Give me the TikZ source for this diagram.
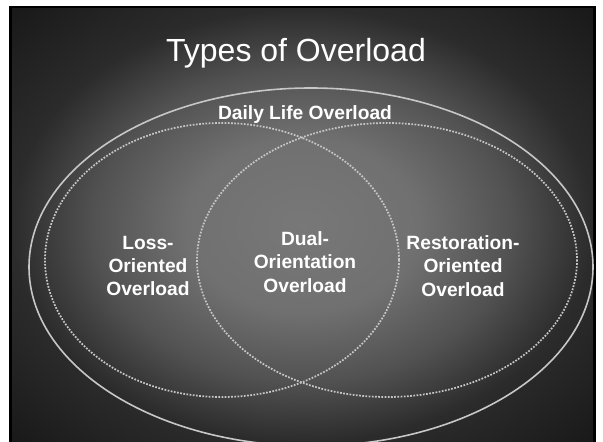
\documentclass[tikz,border=0pt]{standalone}
\usepackage{fontspec}
\setmainfont{Liberation Sans}

\definecolor{glowa}{gray}{0.47}
\definecolor{glowb}{gray}{0.44}
\definecolor{glowc}{gray}{0.32}
\definecolor{glowd}{gray}{0.17}
\definecolor{glowe}{gray}{0.10}
\definecolor{ringgray}{gray}{0.78}

\pgfdeclareradialshading{slideglow}{\pgfpoint{0bp}{0bp}}{%
  color(0bp)=(glowa); color(10bp)=(glowb); color(18bp)=(glowc);
  color(25bp)=(glowd); color(35bp)=(glowe); color(50bp)=(glowe)}

\begin{document}
\begin{tikzpicture}[x=0.75pt,y=-0.75pt,
	ringsolid/.style={draw=ringgray, line width=1.2pt},
	ringdotted/.style={draw=ringgray, line width=1.3pt, dash pattern=on 1.3pt off 1.1pt},
	vennlabel/.style={text=white, align=center, font=\fontsize{14.4}{17.6}\selectfont\bfseries}]
	\useasboundingbox (0,0) rectangle (603,442);
	\fill[white] (0,0) rectangle (603,442);
	\fill[black] (9,6) rectangle (596,442);
	\shade[shading=slideglow] (12,9) rectangle (593,442);
	
	\draw[ringsolid] (311,267) ellipse [x radius=282, y radius=179];
	\draw[ringdotted] (222,260) ellipse [x radius=177, y radius=137];
	\draw[ringdotted] (387,260) ellipse [x radius=190, y radius=137];
	
	\draw (296,62) node[anchor=base, text=white, font=\fontsize{24}{28}\selectfont](title){Types of Overload};
	\draw (305,120) node[anchor=base, vennlabel](daily){Daily Life Overload};
	\draw (148,266) node[vennlabel](loss){Loss-\\Oriented\\Overload};
	\draw (305,262) node[vennlabel](dual){Dual-\\Orientation\\Overload};
	\draw (463,266) node[vennlabel](resto){Restoration-\\Oriented\\Overload};
\end{tikzpicture}
\end{document}
